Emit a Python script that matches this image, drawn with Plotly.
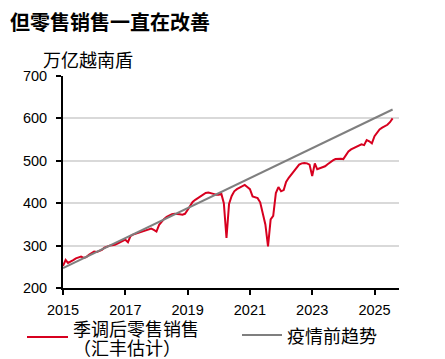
import plotly.graph_objects as go
import pandas as pd

# Monthly seasonally adjusted retail sales (trillion VND), Jan 2015 - Aug 2025
months = pd.date_range("2015-01-01", "2025-08-01", freq="MS").strftime("%Y-%m-%d").tolist()

sales_2015 = [252, 266, 259, 262, 266, 270, 272, 274, 271, 273, 278, 282]
sales_2016 = [286, 285, 287, 290, 295, 298, 300, 301, 302, 305, 308, 310]
sales_2017 = [314, 308, 322, 326, 328, 329, 331, 333, 335, 337, 340, 337]
sales_2018 = [333, 349, 356, 363, 368, 371, 374, 375, 375, 374, 373, 375]
sales_2019 = [384, 395, 403, 408, 412, 416, 421, 424, 425, 424, 422, 420]
sales_2020 = [420, 422, 400, 318, 398, 417, 428, 433, 437, 441, 443, 438]
sales_2021 = [433, 416, 414, 412, 402, 378, 350, 298, 362, 370, 424, 438]
sales_2022 = [428, 431, 450, 460, 468, 477, 485, 491, 494, 495, 494, 491]
sales_2023 = [464, 494, 480, 482, 484, 487, 492, 497, 501, 504, 505, 505]
sales_2024 = [504, 513, 522, 527, 530, 533, 536, 539, 537, 549, 546, 541]
sales_2025 = [558, 568, 574, 578, 581, 585, 591, 600]

sales = (sales_2015 + sales_2016 + sales_2017 + sales_2018 + sales_2019 + sales_2020
         + sales_2021 + sales_2022 + sales_2023 + sales_2024 + sales_2025)

trend_x = ["2015-01-01", "2025-08-01"]
trend_y = [247, 621]

title_text = "但零售销售一直在改善"
unit_text = "万亿越南盾"
legend_sales_1 = "季调后零售销售"
legend_sales_2 = "（汇丰估计）"
legend_trend = "疫情前趋势"
tick_years = ["2015", "2017", "2019", "2021", "2023", "2025"]

RED = "#d7001f"
GRAY = "#7f7f7f"
FONT = "Liberation Sans, Arial, Noto Sans CJK SC, sans-serif"
CJK = "Noto Sans CJK SC, Liberation Sans, sans-serif"

fig = go.Figure()
fig.add_trace(go.Scatter(x=months, y=sales, mode="lines",
                         line=dict(color=RED, width=2), name="sales"))
fig.add_trace(go.Scatter(x=trend_x, y=trend_y, mode="lines",
                         line=dict(color=GRAY, width=2), name="trend"))

# the page body adds an 8px offset; compensate
OFF = 8
W, H = 445 - OFF, 359 - OFF
L, T = 63 - OFF, 76 - OFF
R = W - (399 - OFF)
B = H - (288 - OFF)
pw, ph = W - L - R, H - T - B

def px(x):  # reference pixel x -> paper
    return (x - OFF - L) / pw

def py(y):  # reference pixel y -> paper
    return (H - B - (y - OFF)) / ph

fig.update_layout(
    width=W, height=H,
    margin=dict(l=L, r=R, t=T, b=B, autoexpand=False),
    plot_bgcolor="white", paper_bgcolor="white",
    showlegend=False,
    font=dict(family=FONT, size=14, color="black"),
    xaxis=dict(type="date", range=["2015-01-01", "2025-10-15"], automargin=False,
               tickvals=[f"{y}-01-01" for y in tick_years], ticktext=tick_years,
               showgrid=False, showline=True, linecolor="black", linewidth=2,
               ticks="outside", ticklen=5, tickwidth=1.5, tickcolor="black",
               ticklabelstandoff=3, tickfont=dict(size=14.5)),
    yaxis=dict(range=[200, 700], tickvals=[200, 300, 400, 500, 600, 700], automargin=False,
               showgrid=True, gridcolor="#d9d9d9", gridwidth=1.5,
               showline=True, linecolor="black", linewidth=2,
               ticks="outside", ticklen=5, tickwidth=1.5, tickcolor="black",
               ticklabelstandoff=6, tickfont=dict(size=14.5), zeroline=False),
)

# title
fig.add_annotation(text="<b>" + title_text + "</b>", xref="paper", yref="paper",
                   x=px(8), y=py(22), xanchor="left", yanchor="middle",
                   showarrow=False, font=dict(family=CJK, size=20, color="black"))

# y-axis unit label
fig.add_annotation(text=unit_text, xref="paper", yref="paper",
                   x=px(41), y=py(59), xanchor="left", yanchor="middle",
                   showarrow=False, font=dict(family=CJK, size=18))

# manual legend
fig.add_shape(type="line", xref="paper", yref="paper",
              x0=px(27), x1=px(68), y0=py(337), y1=py(337),
              line=dict(color=RED, width=2))
fig.add_annotation(text=legend_sales_1, xref="paper", yref="paper",
                   x=px(71), y=py(328), xanchor="left", yanchor="middle",
                   align="left", showarrow=False, font=dict(family=CJK, size=18))
fig.add_annotation(text=legend_sales_2, xref="paper", yref="paper",
                   x=px(71), y=py(347), xanchor="left", yanchor="middle",
                   align="left", showarrow=False, font=dict(family=CJK, size=18))
fig.add_shape(type="line", xref="paper", yref="paper",
              x0=px(242), x1=px(282), y0=py(335), y1=py(335),
              line=dict(color=GRAY, width=2))
fig.add_annotation(text=legend_trend, xref="paper", yref="paper",
                   x=px(285), y=py(335), xanchor="left", yanchor="middle",
                   align="left", showarrow=False, font=dict(family=CJK, size=18))

fig.write_html("out.html")
